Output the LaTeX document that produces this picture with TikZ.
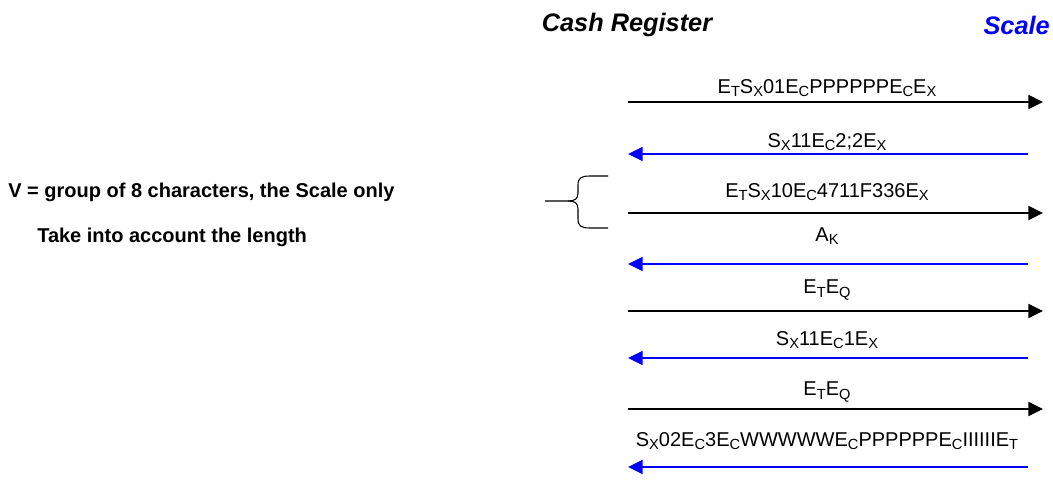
\documentclass[tikz,border=0pt]{standalone}
\usepackage{fontspec}
\setmainfont{Liberation Sans}
\usepackage{xcolor}
\usetikzlibrary{arrows.meta}
\definecolor{scaleblue}{RGB}{0,0,255}
\newcommand{\lo}[1]{\raisebox{-0.3ex}{\fontsize{11}{11}\selectfont #1}}
\tikzset{
  msg/.style={font=\fontsize{15}{17}\selectfont,inner sep=0pt},
  tocash/.style={scaleblue,line width=1.5pt,-{Triangle[length=11pt,width=10.5pt]}},
  toscale/.style={black,line width=1.5pt,-{Triangle[length=11pt,width=10.5pt]}},
  party/.style={font=\fontsize{19}{21}\selectfont\bfseries\itshape,inner sep=0pt},
  note/.style={font=\fontsize{15}{17}\selectfont\bfseries,inner sep=0pt,anchor=west}
}
\begin{document}
\begin{tikzpicture}[x=0.75pt,y=-0.75pt]
  \useasboundingbox (0,0) rectangle (1053,479);
  % the two sides
  \node[party] (cash) at (627,25) {Cash Register};
  \node[party,scaleblue,anchor=east] (scale) at (1050,25) {Scale};

  % end points of the message lines
  \coordinate (c1) at (628,102); \coordinate (s1) at (1043,102);
  \coordinate (c2) at (628,154); \coordinate (s2) at (1028,154);
  \coordinate (c3) at (628,213); \coordinate (s3) at (1043,213);
  \coordinate (c4) at (628,264); \coordinate (s4) at (1028,264);
  \coordinate (c5) at (628,311); \coordinate (s5) at (1043,311);
  \coordinate (c6) at (628,358); \coordinate (s6) at (1028,358);
  \coordinate (c7) at (628,409); \coordinate (s7) at (1043,409);
  \coordinate (c8) at (628,467); \coordinate (s8) at (1028,467);

  % messages cash register -> scale
  \draw[toscale] (c1) -- (s1);
  \draw[toscale] (c3) -- (s3);
  \draw[toscale] (c5) -- (s5);
  \draw[toscale] (c7) -- (s7);
  % messages scale -> cash register
  \draw[tocash] (s2) -- (c2);
  \draw[tocash] (s4) -- (c4);
  \draw[tocash] (s6) -- (c6);
  \draw[tocash] (s8) -- (c8);

  % telegrams
  \node[msg] (m1) at (827,88) {E\lo{T}S\lo{X}01E\lo{C}PPPPPPE\lo{C}E\lo{X}};
  \node[msg] (m2) at (827,142) {S\lo{X}11E\lo{C}2;2E\lo{X}};
  \node[msg] (m3) at (827,192) {E\lo{T}S\lo{X}10E\lo{C}4711F336E\lo{X}};
  \node[msg] (m4) at (827,236) {A\lo{K}};
  \node[msg] (m5) at (827,290) {E\lo{T}E\lo{Q}};
  \node[msg] (m6) at (827,340) {S\lo{X}11E\lo{C}1E\lo{X}};
  \node[msg] (m7) at (827,392) {E\lo{T}E\lo{Q}};
  \node[msg] (m8) at (827,441) {S\lo{X}02E\lo{C}3E\lo{C}WWWWWE\lo{C}PPPPPPE\lo{C}IIIIIIE\lo{T}};

  % brace round the length telegram
  \draw[line width=0.8pt] (608,176) -- (590,176) .. controls (581,176) and (578,178) .. (578,185)
    -- (578,193) .. controls (578,199) and (575,201) .. (568,201) -- (545,201);
  \draw[line width=0.8pt] (608,228) -- (590,228) .. controls (581,228) and (578,226) .. (578,219)
    -- (578,209) .. controls (578,203) and (575,201) .. (568,201);

  % remark
  \node[note] (v) at (8,192) {V = group of 8 characters, the Scale only};
  \node[note] (len) at (37,237) {Take into account the length};
\end{tikzpicture}
\end{document}
